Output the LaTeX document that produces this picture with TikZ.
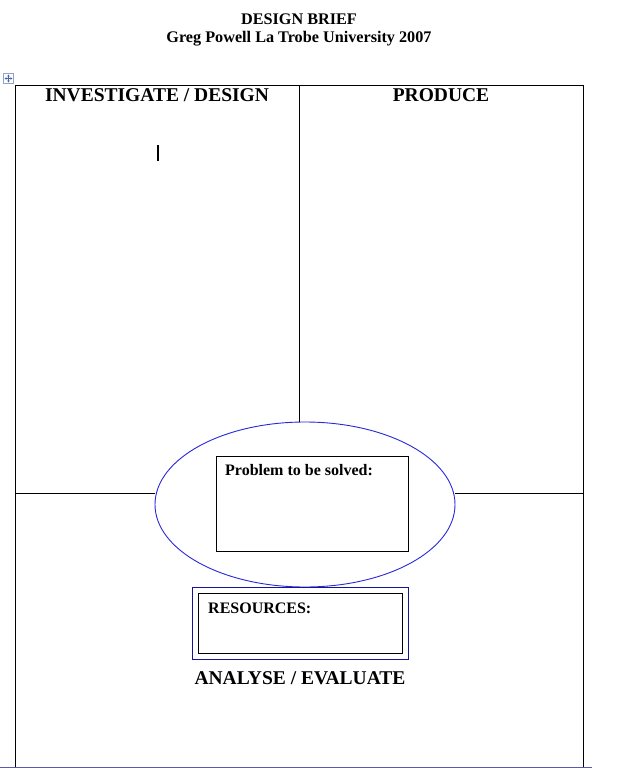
\documentclass[tikz,border=0pt]{standalone}
\usepackage{fontspec}
\setmainfont{Liberation Serif}
\usetikzlibrary{shapes.geometric,arrows.meta}
\definecolor{ellblue}{RGB}{40,40,220}
\definecolor{resblue}{RGB}{20,20,150}
\definecolor{iconblue}{RGB}{70,100,170}
\begin{document}
\begin{tikzpicture}[x=1pt,y=-1pt,
  gridline/.style={draw=black,line width=1pt},
  heading/.style={font=\bfseries\fontsize{19.5}{22}\selectfont,inner sep=0pt},
  title/.style={font=\bfseries\fontsize{16.2}{18}\selectfont,inner sep=0pt},
  boxlabel/.style={font=\bfseries\fontsize{16}{18}\selectfont,inner sep=0pt,anchor=west}]
\useasboundingbox (0,0) rectangle (640,768);
\fill[white] (0,0) rectangle (640,768);
% titles
\node[title] (t1) at (299,19) {DESIGN BRIEF};
\node[title] (t2) at (299,39) {Greg Powell La Trobe University 2007};
% move icon
\node[draw=iconblue!60,fill=white,minimum size=10pt,inner sep=0pt,line width=0.6pt] (icon) at (8.5,78.5) {};
\draw[iconblue,line width=0.6pt,-{Stealth[length=2pt,width=2.5pt]}] (icon.center) -- ++(0,-4);
\draw[iconblue,line width=0.6pt,-{Stealth[length=2pt,width=2.5pt]}] (icon.center) -- ++(0,4);
\draw[iconblue,line width=0.6pt,-{Stealth[length=2pt,width=2.5pt]}] (icon.center) -- ++(-4,0);
\draw[iconblue,line width=0.6pt,-{Stealth[length=2pt,width=2.5pt]}] (icon.center) -- ++(4,0);
% grid
\coordinate (tl) at (15,85);
\coordinate (tr) at (583,85);
\coordinate (bl) at (15,768);
\coordinate (br) at (583,768);
\coordinate (tm) at (299,85);
\coordinate (ml) at (15,493);
\coordinate (mr) at (583,493);
\draw[gridline] (bl) -- (tl) -- (tr) -- (br);
% ellipse
\node[ellipse,draw=ellblue,line width=0.9pt,minimum width=300pt,minimum height=165pt,inner sep=0pt] (ell) at (305,504.5) {};
\draw[gridline] (tm) -- (tm |- ell.north);
\draw[gridline] (ml) -- (ml -| ell.west);
\draw[gridline] (mr) -- (mr -| ell.east);
% headings
\node[heading] (h1) at (157,95) {INVESTIGATE / DESIGN};
\node[heading] (h2) at (441,95) {PRODUCE};
\node[heading] (h3) at (300,678) {ANALYSE / EVALUATE};
% cursor
\draw[black,line width=1.6pt] (158,145) -- (158,161);
% problem box
\draw[black,line width=1pt] (216,456) rectangle (408,551);
\node[boxlabel] (prob) at (225,470) {Problem to be solved:};
% resources
\draw[resblue,line width=1pt] (192.5,587.5) rectangle (408.5,659);
\draw[black,line width=1pt] (198.5,593.5) rectangle (402.5,653.5);
\node[boxlabel] (res) at (208,608) {RESOURCES:};
% bottom faint line
\draw[gray!70!blue,line width=1pt] (0,767.5) -- (592,767.5);
\end{tikzpicture}
\end{document}
